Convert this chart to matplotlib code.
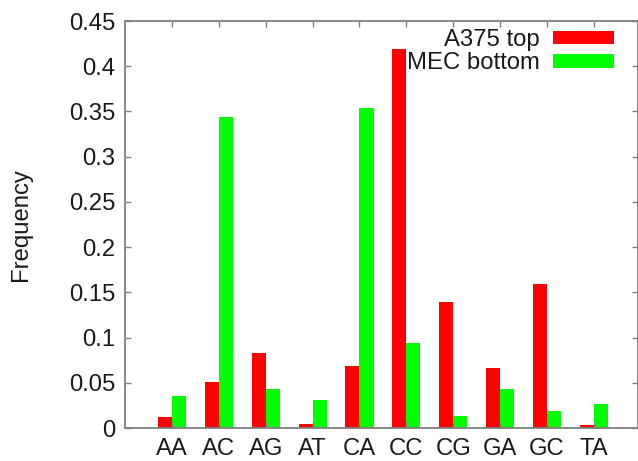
import numpy as np
import matplotlib
matplotlib.use('Agg')
import matplotlib.pyplot as plt
from matplotlib.patches import Patch

# data
pairs = ['AA', 'AC', 'AG', 'AT', 'CA', 'CC', 'CG', 'GA', 'GC', 'TA']
a375_top = [0.012, 0.051, 0.083, 0.004, 0.069, 0.419, 0.139, 0.066, 0.159, 0.003]
mec_bottom = [0.035, 0.344, 0.043, 0.031, 0.354, 0.094, 0.013, 0.043, 0.019, 0.026]
yticks = [0, 0.05, 0.1, 0.15, 0.2, 0.25, 0.3, 0.35, 0.4, 0.45]
ytick_labels = ['0', '0.05', '0.1', '0.15', '0.2', '0.25', '0.3', '0.35', '0.4', '0.45']

plt.rcParams['font.family'] = ['Liberation Sans', 'DejaVu Sans']
plt.rcParams['text.color'] = '#1a1a1a'
plt.rcParams['xtick.labelcolor'] = '#1a1a1a'
plt.rcParams['ytick.labelcolor'] = '#1a1a1a'
fs = 17.2

fig = plt.figure(figsize=(6.38, 4.61), dpi=100)
ax = fig.add_axes([125/638, 33/461, 1 - 125/638, 407/461])

x = np.arange(len(pairs))
w = 0.3
ax.bar(x - w/2, a375_top, width=w, color='#ff0000', label='A375 top')
ax.bar(x + w/2, mec_bottom, width=w, color='#00ff00', label='MEC bottom')

ax.set_xlim(-1, 9.94)
ax.set_ylim(0, 0.45)
ax.set_xticks(x)
ax.set_xticklabels(pairs, fontsize=fs)
ax.set_yticks(yticks)
ax.set_yticklabels(ytick_labels, fontsize=fs)

grey = '#808080'
for s in ax.spines.values():
    s.set_color(grey)
    s.set_linewidth(1.3)
ax.tick_params(direction='in', length=4, width=1.0, color=grey,
               top=True, right=True, pad=7)

ax.set_ylabel('Frequency', fontsize=fs, color='#1a1a1a')
ax.yaxis.set_label_coords(-93/513, 0.5)

handles = [Patch(facecolor='#ff0000'), Patch(facecolor='#00ff00')]
ax.legend(handles, ['A375 top', 'MEC bottom'], loc='upper right',
          bbox_to_anchor=(614/638, 432/461), bbox_transform=fig.transFigure,
          frameon=False, markerfirst=False, fontsize=fs,
          handlelength=2.55, handleheight=0.5, handletextpad=0.55,
          labelspacing=0.05, borderpad=0, borderaxespad=0)

plt.savefig('out.png', dpi=100)
plt.close()
